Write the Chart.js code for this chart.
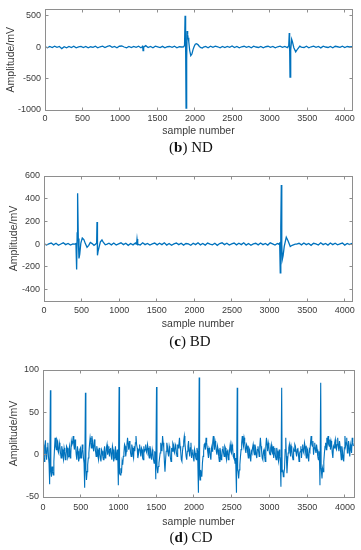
<!DOCTYPE html>
<html><head><meta charset="utf-8">
<script src="https://cdn.jsdelivr.net/npm/chart.js@4.4.1/dist/chart.umd.min.js"></script>
<style>
html,body{margin:0;padding:0;background:#fff;}
body{width:361px;height:550px;position:relative;overflow:hidden;}
canvas{position:absolute;left:0;}
.cap{position:absolute;transform:translate(-50%,-50%);font-family:"Liberation Serif","Times New Roman",serif;font-size:15px;color:#111;white-space:nowrap;}
</style></head><body>
<canvas id="c1" width="361" height="140" style="top:0px"></canvas>
<canvas id="c2" width="361" height="178" style="top:155px"></canvas>
<canvas id="c3" width="361" height="180" style="top:350px"></canvas>
<div class="cap" style="left:191px;top:146.5px">(<b>b</b>) ND</div>
<div class="cap" style="left:190px;top:340.5px">(<b>c</b>) BD</div>
<div class="cap" style="left:191px;top:537px">(<b>d</b>) CD</div>
<script>
// ---------- tick labels ----------
const xTickValues = [0, 500, 1000, 1500, 2000, 2500, 3000, 3500, 4000];
const ndYTicks = [-1000, -500, 0, 500];
const bdYTicks = [-400, -200, 0, 200, 400, 600];
const cdYTicks = [-50, 0, 50, 100];
const xTitle = 'sample number';
const yTitle = 'Amplitude/mV';

// ---------- (b) ND ----------
const ndStep = 32;
const ndBaseline = [
  8, -10, 12, -6, 14, -4, 10, -24, 6, -12,
  10, -6, 14, -10, 4, 12, -8, 10, -12, 6,
  -4, 14, -10, 6, 16, -6, 12, 22, -4, 10,
  -10, 14, 18, 2, -12, 10, -6, 12, -2, 14,
  -10, 6, 24, -6, 10, -10, 14, 4, -8, 12,
  -12, 6, 10, -4, 14, -10, 6, 2, 0, 0,
  0, 0, 0, 0, 0, 0, 0, 10, -10, 14,
  -4, 16, 6, -12, 10, -6, 12, -2, 18, -6,
  10, -12, 6, 14, -4, 10, -10, 16, 2, -6,
  12, -10, 6, 14, -4, 10, -12, 6, 16, -4,
  10, -6, 0, 0, 0, 0, 0, 12, -6, 14,
  -10, 6, 16, -4, 10, -12, 14, 2, -6, 12,
  -10, 14, 6, -4, 16, -6, 10, 2, 6
];
const ndEventX = [
  [1296, 1302, 1308, 1316],
  [1850, 1862, 1869, 1876, 1882, 1890, 1896, 1903, 1909, 1918, 1930, 1945, 1960, 1975, 1990, 2005, 2021, 2040, 2060, 2080, 2100, 2115],
  [3240, 3252, 3259, 3264, 3269, 3278, 3291, 3300, 3320, 3345, 3370, 3400, 3420]
];
const ndEventY = [
  [5, 25, -55, 0],
  [5, 30, 500, 100, -970, -200, 255, 200, 150, 90, -50, -135, -110, -40, 10, 45, 55, 40, 10, -10, -15, 0],
  [5, 20, 225, 0, -475, -50, 125, 90, -10, -75, -30, 15, 0]
];

// ---------- (c) BD ----------
const bdStep = 32;
const bdBaseline = [
  6, -8, 2, 10, -6, 8, -10, 2, 12, -4,
  6, -8, 2, 0, 0, 0, 0, 0, 0, 0,
  0, 0, 0, 0, 0, 0, 0, 8, -6, 10,
  -8, 2, 12, -4, 8, -10, 6, -6, 10, 2,
  -8, 12, -4, 6, -8, 2, 10, -6, 8, -4,
  12, -8, 6, -10, 2, 10, -4, 8, -8, 6,
  2, -10, 8, -4, 12, -6, 6, -8, 10, 0,
  -6, 8, -10, 6, 12, -4, 8, -8, 2, 10,
  -6, 8, -4, 12, -8, 6, -10, 2, 8, -6,
  10, -4, 6, -8, 12, 2, -8, 6, 0, 0,
  0, 0, 0, 0, 0, 0, 8, -6, 10, -4,
  6, -10, 8, 2, -8, 12, -4, 6, -8, 10,
  -4, 8, -6, 2, 10, -8, 6, -4, 8
];
const bdEventX = [
  [410, 425, 434, 441, 447, 456, 465, 475, 490, 509, 530, 550, 572, 595, 616, 640, 665, 685],
  [690, 700, 705, 709, 713, 720, 735, 750, 771, 790, 815, 840],
  [1225, 1232, 1237, 1242, 1250],
  [3120, 3134, 3142, 3149, 3156, 3162, 3169, 3180, 3195, 3222, 3245, 3275, 3300, 3341, 3360]
];
const bdEventY = [
  [0, 5, -223, 100, 449, 50, -125, -90, 10, 54, 40, 5, -27, -10, 15, 5, -10, 0],
  [0, 10, 196, 0, -98, -60, -20, 20, 38, 15, -5, 0],
  [0, 10, 45, -10, 0],
  [0, 10, -253, 150, 520, 0, -134, -100, -20, 62, 30, -20, -10, 0, 0]
];

// ---------- (d) CD ----------
const cdStep = 16;
// samples at 0, 16, 32, ...
const cdBaseline = [
  12, -8, 17, -6, 14, -10, -4, -26, -20, -8,
  20, 6, 16, 2, 10, -4, 6, -6, 4, -4,
  8, -2, 10, 0, 12, 22, 6, 10, -6, 4,
  -4, 8, -2, 6, -10, -6, -30, -12, 2, 20,
  8, 16, 4, 12, -2, 6, -6, 2, -8, 4,
  -6, 10, -2, 12, 4, -2, 8, -6, 6, -4,
  10, 0, -8, -6, -24, -22, -12, 2, 10, 4,
  20, 6, 10, -2, 8, -4, 4, 22, 8, 0,
  12, -2, 6, -6, 4, 12, 2, 8, -4, 6,
  -6, 2, -10, -2, -4, -22, -10, 2, 10, 22,
  8, -20, 4, 10, -2, 6, -8, 4, 12, 2,
  10, -2, 8, 20, 4, -8, 10, 22, 6, -6,
  10, 4, 8, -4, 6, -8, 2, -6, 4, -4,
  -30, -22, -10, 4, 14, 20, 8, -4, 6, -6,
  4, 22, 6, 12, 0, 6, -8, 4, -4, 10,
  -2, 8, -6, 6, -2, 12, 2, 8, -4, -10,
  -6, -4, -28, -12, 6, 22, 10, 16, 2, 10,
  -4, 6, -8, 2, 12, 0, 8, -4, 10, -2,
  20, 4, -6, 6, -8, 20, 4, 10, 0, 12,
  2, -4, 8, -6, 4, -8, -2, -4, -4, -26,
  -16, 20, -22, 2, 12, -2, 6, -6, 4, 10,
  -2, 8, -8, 4, -4, 12, 2, 10, -4, 6,
  -8, 4, 22, 10, 0, 14, 2, 6, -6, -10,
  -4, -28, -20, 2, 14, 20, 22, 10, 6, 12,
  -4, 8, 18, 6, 20, 4, 10, -6, 4, -8,
  22, 14, 2, 16, -2, 8, 20, 10
];
// samples at 8, 24, 40, ...
const cdBaselineMid = [
  -4, 10, 2, 8, -2, 4, 0, -14, -24, 6,
  10, 18, 4, 14, 2, 10, -2, 8, -6, 10,
  -4, 6, -4, 16, 14, 12, 18, 0, 10, -8,
  6, -4, 12, -4, 2, -10, -20, -4, 12, 14,
  22, 8, 18, 4, 10, -2, 8, -4, 6, -2,
  4, -4, 8, 0, 10, 6, -2, 10, -8, 2,
  -6, 6, 0, -14, -16, -8, -2, 12, -2, 12,
  12, 16, 2, 12, 0, 10, 14, 12, -4, 6,
  4, 8, -4, 10, 6, 4, 12, 0, 10, -2,
  6, -6, 4, -10, -14, -14, -4, 14, 4, 14,
  -8, -6, 14, 2, 10, -4, 8, 14, 4, 12,
  2, 12, 12, 10, -6, 4, 16, 14, -2, 4,
  16, -2, 14, 2, -4, 6, -4, 8, -6, 0,
  -18, -26, -2, 12, 6, 14, 2, 8, -2, 8,
  14, 12, 16, 4, 10, -2, 8, -6, 6, 2,
  10, -2, 4, -6, 6, 4, 12, -2, 2, -4,
  0, -20, -18, -2, 14, 14, 20, 6, 12, 2,
  8, -2, 4, 8, 4, 12, 0, 6, 4, 10,
  10, -4, 4, -2, 10, 12, 14, 2, 8, 4,
  10, 2, -2, 8, -4, 6, -8, 0, -18, -22,
  6, -2, -8, 8, 4, 10, -2, 6, 12, 2,
  6, 0, 2, 10, 6, 4, 14, 2, 8, -2,
  6, 14, 12, 16, 8, 6, 12, -2, 4, -14,
  -20, -16, -8, 10, 6, 14, 12, 18, 16, 2,
  10, 14, 8, 12, 10, 16, 2, 10, -4, 8,
  10, 20, 8, 6, 12, 2, 14
];
const cdBeatX = [98, 562, 1008, 1504, 2069, 2573, 3162, 3679];
const cdQ = [-35, -39, -36, -29, -45, -45, -38, -36];
const cdR = [76, 73, 80, 80, 91, 79, 79, 85];
const cdS = [-20, -16, -22, -14, -24, -18, -20, -16];
const cdEventX = cdBeatX.map(r => [r - 10, r, r + 6]);
const cdEventY = cdBeatX.map((r, k) => [cdQ[k], cdR[k], cdS[k]]);

function basePoints(step, offset, base, evX) {
  const pts = [];
  base.forEach((v, i) => {
    const x = offset + i * step;
    const inside = evX.some(ex => x >= ex[0] - 4 && x <= ex[ex.length - 1] + 4);
    if (!inside) pts.push({x: x, y: v});
  });
  return pts;
}
function buildSeries(baseSets, evX, evY) {
  let pts = [];
  baseSets.forEach(b => { pts = pts.concat(basePoints(b[0], b[1], b[2], evX)); });
  evX.forEach((ex, k) => ex.forEach((x, j) => pts.push({x: x, y: evY[k][j]})));
  pts.sort((a, b) => a.x - b.x);
  return pts;
}

const FONT = '"Liberation Sans", Arial, Helvetica, sans-serif';
const TXT = '#3a3a3a';

const boxPlugin = {
  id: 'matBox',
  afterDraw(chart) {
    const {ctx, chartArea: a, scales: {x, y}} = chart;
    ctx.save();
    ctx.strokeStyle = '#8e8e8e';
    ctx.lineWidth = 1;
    const L = Math.floor(a.left) + 0.5, R = Math.floor(a.right) + 0.5;
    const T = Math.floor(a.top) + 0.5, B = Math.floor(a.bottom) + 0.5;
    ctx.strokeRect(L, T, R - L, B - T);
    ctx.beginPath();
    x.ticks.forEach(t => {
      const px = Math.floor(x.getPixelForValue(t.value)) + 0.5;
      ctx.moveTo(px, B); ctx.lineTo(px, B - 3);
      ctx.moveTo(px, T); ctx.lineTo(px, T + 3);
    });
    y.ticks.forEach(t => {
      const py = Math.floor(y.getPixelForValue(t.value)) + 0.5;
      ctx.moveTo(L, py); ctx.lineTo(L + 3, py);
      ctx.moveTo(R, py); ctx.lineTo(R - 3, py);
    });
    ctx.stroke();
    ctx.restore();
  }
};

function makePanel(id, L, data, yMin, yMax, yTicks, xMax, lw) {
  const tickSize = 9, titleSize = 10.5;
  const tickLH = tickSize * 1.2, titleLH = titleSize * 1.2;
  const canvasBottom = L.canvasTop + L.canvasH;
  const xAxisH = canvasBottom - L.plotBottom;
  new Chart(document.getElementById(id), {
    type: 'line',
    data: {datasets: [{data: data, borderColor: '#0072BD', borderWidth: lw, pointRadius: 0, tension: 0, fill: false}]},
    options: {
      responsive: false, animation: false, devicePixelRatio: 1, events: [],
      layout: {padding: {top: L.plotTop - L.canvasTop, right: 361 - L.plotRight, left: 0, bottom: 0}},
      plugins: {legend: {display: false}, tooltip: {enabled: false}},
      scales: {
        x: {
          type: 'linear', min: 0, max: xMax,
          afterBuildTicks: s => { s.ticks = xTickValues.map(v => ({value: v})); },
          afterFit: s => { s.height = xAxisH; },
          grid: {display: false, drawTicks: false}, border: {display: false},
          ticks: {autoSkip: false, maxRotation: 0, callback: v => String(v),
                  padding: L.labelY - L.plotBottom - tickLH / 2,
                  font: {family: FONT, size: tickSize}, color: TXT},
          title: {display: true, text: xTitle, color: TXT, font: {family: FONT, size: titleSize},
                  padding: {top: 0, bottom: canvasBottom - L.titleY - titleLH / 2}}
        },
        y: {
          type: 'linear', min: yMin, max: yMax,
          afterBuildTicks: s => { s.ticks = yTicks.map(v => ({value: v})); },
          afterFit: s => { s.width = L.plotLeft; },
          grid: {display: false, drawTicks: false}, border: {display: false},
          ticks: {callback: v => String(v), padding: 4, font: {family: FONT, size: tickSize}, color: TXT},
          title: {display: true, text: yTitle, color: TXT, font: {family: FONT, size: titleSize},
                  padding: {top: L.yTitleX - titleLH / 2, bottom: 0}}
        }
      }
    },
    plugins: [boxPlugin]
  });
}

makePanel('c1', {canvasTop: 0, canvasH: 140, plotTop: 3, plotBottom: 110, plotLeft: 45, plotRight: 352, labelY: 118.2, titleY: 131, yTitleX: 11},
  buildSeries([[ndStep, 0, ndBaseline]], ndEventX, ndEventY), -1000, 600, ndYTicks, 4096, 1.3);
makePanel('c2', {canvasTop: 155, canvasH: 178, plotTop: 176, plotBottom: 301, plotLeft: 44, plotRight: 352, labelY: 310.7, titleY: 324.5, yTitleX: 14},
  buildSeries([[bdStep, 0, bdBaseline]], bdEventX, bdEventY), -500, 600, bdYTicks, 4096, 1.3);
makePanel('c3', {canvasTop: 350, canvasH: 180, plotTop: 370, plotBottom: 497, plotLeft: 43, plotRight: 354, labelY: 507.8, titleY: 521.7, yTitleX: 14.5},
  buildSeries([[cdStep, 0, cdBaseline], [cdStep, cdStep / 2, cdBaselineMid]], cdEventX, cdEventY), -50, 100, cdYTicks, 4120, 1.1);
</script>
</body></html>
